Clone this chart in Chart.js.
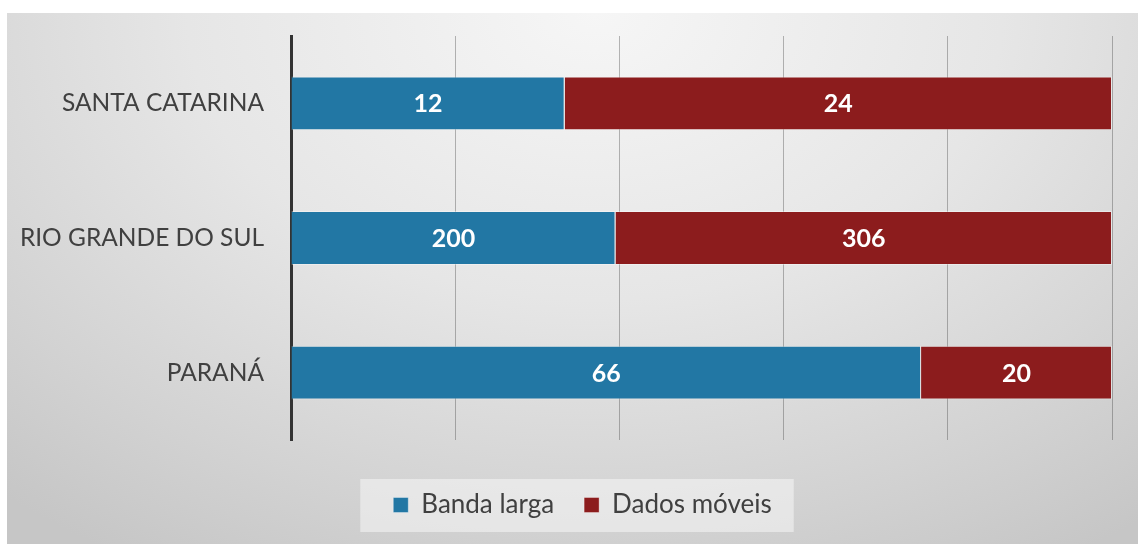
<!DOCTYPE html>
<html>
<head>
<meta charset="utf-8">
<script src="https://cdn.jsdelivr.net/npm/chart.js@4"></script>
<style>
  body { margin: 0; background: #fff; }
  #wrap {
    position: absolute; left: 7px; top: 13px; width: 1131px; height: 531px;
    background: radial-gradient(ellipse 80% 120% at 52% 0%, #f6f6f6 0%, #e6e6e6 45%, #d2d2d2 80%, #c6c6c6 100%);
  }
</style>
</head>
<body>
<div id="wrap"><canvas id="c" width="1131" height="531"></canvas></div>
<script>
// dados
const estados = ['SANTA CATARINA', 'RIO GRANDE DO SUL', 'PARANÁ'];
const bandaLarga = [12, 200, 66];
const dadosMoveis = [24, 306, 20];
const seriesNomes = ['Banda larga', 'Dados móveis'];
const cores = ['#2277a4', '#8c1c1d'];

const FONT = 'Lato, "Open Sans", sans-serif';

// 100% empilhado
const totais = estados.map((_, i) => bandaLarga[i] + dadosMoveis[i]);
const pct = arr => arr.map((v, i) => v / totais[i] * 100);

// rótulos de valor dentro das barras
const valueLabels = {
    id: 'valueLabels',
    afterDatasetsDraw(chart) {
        const ctx = chart.ctx;
        ctx.save();
        ctx.fillStyle = '#fff';
        ctx.font = 'bold 25px ' + FONT;
        ctx.textAlign = 'center';
        ctx.textBaseline = 'middle';
        chart.data.datasets.forEach((ds, di) => {
            chart.getDatasetMeta(di).data.forEach((bar, i) => {
                const cx = (bar.x + bar.base) / 2;
                ctx.fillText(String(ds.raw[i]), cx, bar.y + 1);
            });
        });
        ctx.restore();
    }
};

// legenda um pouco à direita + caixa branca atrás dela
const legendBox = {
    id: 'legendBox',
    afterLayout(chart) {
        chart.legend.left += 23;
        chart.legend.right += 23;
    },
    beforeDraw(chart) {
        const hb = chart.legend && chart.legend.legendHitBoxes;
        if (!hb || !hb.length) return;
        const l = Math.min(...hb.map(h => h.left)) - 33;
        const r = Math.max(...hb.map(h => h.left + h.width)) + 22;
        const t = hb[0].top + hb[0].height / 2 - 26;
        const ctx = chart.ctx;
        ctx.save();
        ctx.fillStyle = 'rgba(255,255,255,0.45)';
        ctx.fillRect(l, t, r - l, 53);
        ctx.restore();
    }
};

new Chart(document.getElementById('c'), {
    type: 'bar',
    data: {
        labels: estados,
        datasets: [
            { label: seriesNomes[0], data: pct(bandaLarga), raw: bandaLarga, backgroundColor: cores[0], borderColor: 'rgba(255,255,255,0.35)', borderWidth: 1 },
            { label: seriesNomes[1], data: pct(dadosMoveis), raw: dadosMoveis, backgroundColor: cores[1], borderColor: 'rgba(255,255,255,0.35)', borderWidth: 1 }
        ]
    },
    options: {
        indexAxis: 'y',
        responsive: false,
        animation: false,
        barPercentage: 0.4,
        categoryPercentage: 1,
        layout: { padding: { top: 23, right: 26, bottom: 16, left: 0 } },
        scales: {
            x: {
                stacked: true, min: 0, max: 100,
                ticks: { display: false, stepSize: 20 },
                grid: { color: 'rgba(60,60,60,0.36)', lineWidth: 1, drawTicks: false },
                border: { display: false },
                afterFit: s => { s.height = 22; }
            },
            y: {
                stacked: true,
                grid: { display: false },
                border: { color: '#333', width: 3 },
                ticks: { color: '#404040', font: { family: FONT, size: 24.5 }, padding: 19 },
                afterFit: s => { s.width = 284; s.paddingTop = 0; s.paddingBottom = 0; }
            }
        },
        plugins: {
            legend: {
                position: 'bottom',
                labels: { color: '#404040', font: { family: FONT, size: 26 }, boxWidth: 15, boxHeight: 15, padding: 30 }
            },
            tooltip: { enabled: false }
        }
    },
    plugins: [legendBox, valueLabels]
});
</script>
</body>
</html>
